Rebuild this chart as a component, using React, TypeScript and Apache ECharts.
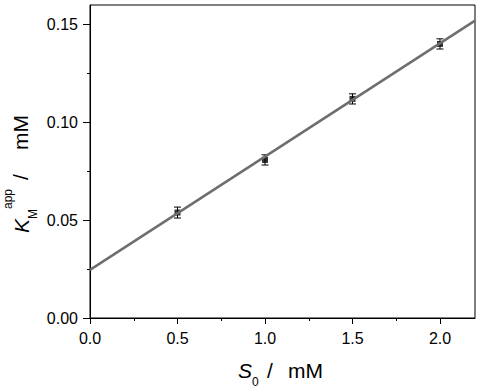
import React, { useEffect, useRef } from "react";
import * as echarts from "echarts";

// Data
const substrateConc = [0.5, 1.0, 1.5, 2.0];
const kmApp = [0.0539, 0.0808, 0.112, 0.1401];
const kmErr = [0.0028, 0.0026, 0.0026, 0.0026];
const fitX = [0, 2.2];
const fitY = [0.0246, 0.152];
const xMajorTicks = [0, 0.5, 1.0, 1.5, 2.0];
const xMinorTicks = [0.25, 0.75, 1.25, 1.75];
const yMajorTicks = [0, 0.05, 0.1, 0.15];
const yMinorTicks = [0.025, 0.075, 0.125];

const FONT = "Liberation Sans, Arial, sans-serif";

export default function App() {
  const ref = useRef<HTMLDivElement>(null);
  useEffect(() => {
    if (!ref.current) return;
    const chart = echarts.init(ref.current, null, { renderer: "svg" });
    const pts = substrateConc.map((x, i) => [x, kmApp[i]]);
    const errData = substrateConc.map((x, i) => [x, kmApp[i], kmErr[i]]);
    const fitData = fitX.map((x, i) => [x, fitY[i]]);

    const baseAxis = { min: 0, type: "value" as const };

    chart.setOption({
      animation: false,
      backgroundColor: "#fff",
      grid: {
        left: 90,
        right: 6,
        top: 5,
        bottom: 73,
        show: true,
        borderColor: "#000",
        borderWidth: 1,
        backgroundColor: "transparent",
      },
      xAxis: [
        {
          ...baseAxis,
          max: 2.2,
          position: "bottom",
          axisLine: { show: true, onZero: false, lineStyle: { color: "#000", width: 1 } },
          axisTick: { show: true, length: 6, customValues: xMajorTicks, lineStyle: { color: "#000" } },
          axisLabel: {
            show: true,
            customValues: xMajorTicks,
            formatter: (v: number) => v.toFixed(1),
            color: "#000",
            fontSize: 16,
            fontFamily: FONT,
            margin: 12,
          },
          splitLine: { show: false },
        },
        {
          ...baseAxis,
          max: 2.2,
          position: "bottom",
          axisLine: { show: false, onZero: false },
          axisTick: { show: true, length: 3, customValues: xMinorTicks, lineStyle: { color: "#000" } },
          axisLabel: { show: false },
          splitLine: { show: false },
        },
      ],
      yAxis: [
        {
          ...baseAxis,
          max: 0.16,
          position: "left",
          axisLine: { show: true, onZero: false, lineStyle: { color: "#000", width: 1 } },
          axisTick: { show: true, length: 7, customValues: yMajorTicks, lineStyle: { color: "#000" } },
          axisLabel: {
            show: true,
            customValues: yMajorTicks,
            formatter: (v: number) => v.toFixed(2),
            color: "#000",
            fontSize: 16,
            fontFamily: FONT,
            margin: 12,
          },
          splitLine: { show: false },
        },
        {
          ...baseAxis,
          max: 0.16,
          position: "left",
          axisLine: { show: false, onZero: false },
          axisTick: { show: true, length: 3, customValues: yMinorTicks, lineStyle: { color: "#000" } },
          axisLabel: { show: false },
          splitLine: { show: false },
        },
      ],
      series: [
        {
          type: "scatter",
          data: pts,
          symbol: "rect",
          symbolSize: 6,
          itemStyle: { color: "#000" },
          z: 2,
        },
        {
          type: "custom",
          data: errData,
          z: 3,
          renderItem: (params: any, api: any) => {
            const x = api.value(0);
            const y = api.value(1);
            const e = api.value(2);
            const top = api.coord([x, y + e]);
            const bot = api.coord([x, y - e]);
            const hw = 3.5;
            const st = { stroke: "#000", lineWidth: 1 };
            return {
              type: "group",
              children: [
                { type: "line", shape: { x1: top[0], y1: top[1], x2: bot[0], y2: bot[1] }, style: st },
                { type: "line", shape: { x1: top[0] - hw, y1: top[1], x2: top[0] + hw, y2: top[1] }, style: st },
                { type: "line", shape: { x1: bot[0] - hw, y1: bot[1], x2: bot[0] + hw, y2: bot[1] }, style: st },
              ],
            };
          },
        },
        {
          type: "line",
          data: fitData,
          symbol: "none",
          lineStyle: { color: "#6e6e6e", width: 2.5 },
          clip: true,
          z: 4,
        },
      ],
      graphic: [
        // x-axis title: S0 / mM
        { type: "text", x: 238, y: 370.5, style: { text: "S", font: `italic 21px ${FONT}`, fill: "#000", align: "left", verticalAlign: "middle" } },
        { type: "text", x: 252, y: 382, style: { text: "0", font: `12px ${FONT}`, fill: "#000", align: "left", verticalAlign: "middle" } },
        { type: "text", x: 267, y: 370.5, style: { text: "/", font: `21px ${FONT}`, fill: "#000", align: "left", verticalAlign: "middle" } },
        { type: "text", x: 288, y: 370.5, style: { text: "mM", font: `21px ${FONT}`, fill: "#000", align: "left", verticalAlign: "middle" } },
        // y-axis title: K_M^app / mM (rotated)
        {
          type: "group",
          x: 0,
          y: 0,
          rotation: Math.PI / 2,
          children: [
            { type: "text", x: -233, y: 21, style: { text: "K", font: `italic 21px ${FONT}`, fill: "#000", align: "left", verticalAlign: "middle" } },
            { type: "text", x: -219, y: 33, style: { text: "M", font: `12px ${FONT}`, fill: "#000", align: "left", verticalAlign: "middle" } },
            { type: "text", x: -209, y: 8, style: { text: "app", font: `12px ${FONT}`, fill: "#000", align: "left", verticalAlign: "middle" } },
            { type: "text", x: -180, y: 20, style: { text: "/", font: `21px ${FONT}`, fill: "#000", align: "left", verticalAlign: "middle" } },
            { type: "text", x: -150, y: 20, style: { text: "mM", font: `21px ${FONT}`, fill: "#000", align: "left", verticalAlign: "middle" } },
          ],
        },
      ],
    });
    return () => chart.dispose();
  }, []);
  return <div ref={ref} style={{ width: 481, height: 391, position: "absolute", left: 0, top: 0 }} />;
}
